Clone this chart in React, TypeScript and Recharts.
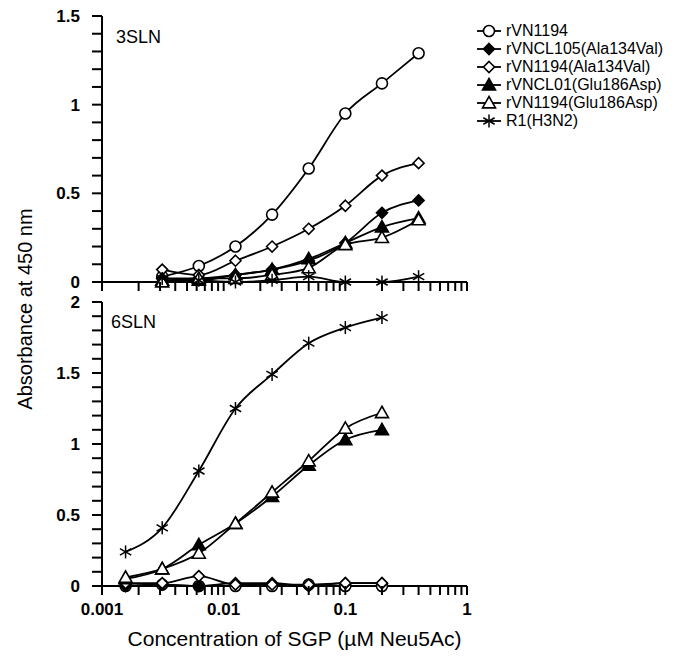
import { Legend, Line, LineChart, XAxis, YAxis, Label } from "recharts";

// concentrations (µM Neu5Ac), 2-fold dilutions
const X_3SLN = [0.003125, 0.00625, 0.0125, 0.025, 0.05, 0.1, 0.2, 0.4];
const X_6SLN = [0.0015625, 0.003125, 0.00625, 0.0125, 0.025, 0.05, 0.1, 0.2];

// 3SLN panel
const T_rVN1194 = [0.03, 0.09, 0.2, 0.38, 0.64, 0.95, 1.12, 1.29];
const T_rVNCL105A = [0.02, 0.02, 0.04, 0.07, 0.12, 0.22, 0.39, 0.46];
const T_rVN1194A = [0.07, 0.04, 0.12, 0.2, 0.3, 0.43, 0.6, 0.67];
const T_rVNCL01G = [0.01, 0.01, 0.04, 0.07, 0.13, 0.22, 0.31, 0.36];
const T_rVN1194G = [0.0, 0.02, 0.02, 0.04, 0.08, 0.21, 0.25, 0.35];
const T_R1 = [0.02, 0.01, 0.0, 0.01, 0.03, 0.0, 0.0, 0.03];

// 6SLN panel
const B_rVN1194 = [0.0, 0.01, 0.0, 0.0, 0.0, 0.01, 0.0, 0.0];
const B_rVNCL105A = [0.0, 0.01, 0.0, 0.02, 0.02, 0.0, 0.02, 0.02];
const B_rVN1194A = [0.02, 0.02, 0.07, 0.01, 0.01, 0.01, 0.02, 0.02];
const B_rVNCL01G = [0.05, 0.12, 0.29, 0.44, 0.63, 0.85, 1.03, 1.1];
const B_rVN1194G = [0.06, 0.12, 0.23, 0.44, 0.66, 0.88, 1.11, 1.22];
const B_R1 = [0.24, 0.41, 0.81, 1.25, 1.49, 1.71, 1.82, 1.89];

const SERIES = [
  { key: "a", name: "rVN1194", shape: "circle" },
  { key: "b", name: "rVNCL105(Ala134Val)", shape: "diamondFilled" },
  { key: "c", name: "rVN1194(Ala134Val)", shape: "diamond" },
  { key: "d", name: "rVNCL01(Glu186Asp)", shape: "triangleFilled" },
  { key: "e", name: "rVN1194(Glu186Asp)", shape: "triangle" },
  { key: "f", name: "R1(H3N2)", shape: "star" },
];

const DECADES = [0.001, 0.01, 0.1, 1];
const X_TICKS = [
  ...[0.001, 0.01, 0.1].flatMap((d) => [1, 2, 3, 4, 5, 6, 7, 8, 9].map((m) => +(d * m).toPrecision(3))),
  1,
];
const Y_TICKS_TOP = [0, 0.1, 0.2, 0.3, 0.4, 0.5, 0.6, 0.7, 0.8, 0.9, 1, 1.1, 1.2, 1.3, 1.4, 1.5];
const Y_TICKS_BOTTOM = [0, 0.1, 0.2, 0.3, 0.4, 0.5, 0.6, 0.7, 0.8, 0.9, 1, 1.1, 1.2, 1.3, 1.4, 1.5, 1.6, 1.7, 1.8, 1.9, 2];
const Y_LABELED = [0, 0.5, 1, 1.5, 2];

function rows(xs: number[], cols: number[][]) {
  return xs.map((x, i) => {
    const r: any = { x };
    SERIES.forEach((s, j) => (r[s.key] = cols[j][i]));
    return r;
  });
}

const topData = rows(X_3SLN, [T_rVN1194, T_rVNCL105A, T_rVN1194A, T_rVNCL01G, T_rVN1194G, T_R1]);
const bottomData = rows(X_6SLN, [B_rVN1194, B_rVNCL105A, B_rVN1194A, B_rVNCL01G, B_rVN1194G, B_R1]);

const FONT = "Arial, Liberation Sans, sans-serif";
const X_TICK_SIZE = 9;
const X_TICK_MARGIN = 7;
const Y_TICK_SIZE = 10;
const Y_TICK_MARGIN = 12;

function Marker({ cx, cy, shape }: { cx: number; cy: number; shape: string }) {
  const sw = 1.6;
  switch (shape) {
    case "circle":
      return <circle cx={cx} cy={cy} r={5.5} fill="#fff" stroke="#000" strokeWidth={sw} />;
    case "diamond":
    case "diamondFilled": {
      const r = 5.5;
      return (
        <polygon
          points={`${cx},${cy - r} ${cx + r},${cy} ${cx},${cy + r} ${cx - r},${cy}`}
          fill={shape === "diamond" ? "#fff" : "#000"}
          stroke="#000"
          strokeWidth={sw}
        />
      );
    }
    case "triangle":
    case "triangleFilled": {
      const r = 6.5;
      return (
        <polygon
          points={`${cx},${cy - r} ${cx + r},${cy + r * 0.75} ${cx - r},${cy + r * 0.75}`}
          fill={shape === "triangle" ? "#fff" : "#000"}
          stroke="#000"
          strokeWidth={sw}
        />
      );
    }
    default: {
      const r = 6.5;
      const a = r * 0.87;
      const b = r * 0.5;
      return (
        <g stroke="#000" strokeWidth={1.5}>
          <line x1={cx} y1={cy - r} x2={cx} y2={cy + r} />
          <line x1={cx - a} y1={cy - b} x2={cx + a} y2={cy + b} />
          <line x1={cx - a} y1={cy + b} x2={cx + a} y2={cy - b} />
        </g>
      );
    }
  }
}

function XTick({ x, y, payload, showLabel }: any) {
  const v = payload.value;
  const top = y - X_TICK_MARGIN - X_TICK_SIZE;
  return (
    <g>
      <line x1={x} x2={x} y1={top} y2={top + X_TICK_SIZE} stroke="#000" strokeWidth={2} />
      {showLabel && DECADES.includes(v) && (
        <text x={x} y={y} dy="0.75em" textAnchor="middle" fontSize={17} fontWeight="bold" fontFamily={FONT} fill="#000">
          {String(v)}
        </text>
      )}
    </g>
  );
}

function YTick({ x, y, payload }: any) {
  const v = payload.value;
  const right = x + Y_TICK_MARGIN + Y_TICK_SIZE;
  return (
    <g>
      <line x1={right - Y_TICK_SIZE} x2={right} y1={y} y2={y} stroke="#000" strokeWidth={2} />
      {Y_LABELED.includes(v) && (
        <text x={x} y={y} dy="0.36em" textAnchor="end" fontSize={17} fontWeight="bold" fontFamily={FONT} fill="#000">
          {String(v)}
        </text>
      )}
    </g>
  );
}

function LegendBox() {
  return (
    <div style={{ fontFamily: FONT, fontSize: 16, color: "#000" }}>
      {SERIES.map((s) => (
        <div key={s.key} style={{ display: "flex", alignItems: "center", height: 18 }}>
          <svg width={26} height={16} style={{ marginRight: 4 }}>
            <line x1={1} y1={8} x2={25} y2={8} stroke="#000" strokeWidth={1.8} />
            <Marker cx={13} cy={8} shape={s.shape} />
          </svg>
          <span>{s.name}</span>
        </div>
      ))}
    </div>
  );
}

function Panel({ data, yMax, yTicks, top, height, margin, xHeight, showX, title, legend }: any) {
  return (
    <div style={{ position: "absolute", left: 0, top }}>
      <LineChart width={680} height={height} data={data} margin={margin}>
        <XAxis
          dataKey="x"
          type="number"
          scale="log"
          domain={[0.001, 1]}
          ticks={X_TICKS}
          interval={0}
          allowDataOverflow
          height={xHeight}
          stroke="#000"
          strokeWidth={2}
          tickLine={false}
          tickSize={X_TICK_SIZE}
          tickMargin={X_TICK_MARGIN}
          tick={(p: any) => <XTick key={p.index} {...p} showLabel={showX} />}
        >
          {showX && (
            <Label
              value="Concentration of SGP (µM Neu5Ac)"
              position="insideBottom"
              offset={16}
              dx={10}
              style={{ fill: "#000", fontSize: 21, fontFamily: FONT }}
            />
          )}
        </XAxis>
        <XAxis xAxisId="frame" orientation="top" type="number" domain={[0, 1]} height={0} tick={false} tickLine={false} stroke="#000" strokeWidth={2} />
        <YAxis
          type="number"
          domain={[0, yMax]}
          ticks={yTicks}
          interval={0}
          width={102}
          stroke="#000"
          strokeWidth={2}
          tickLine={false}
          tickSize={Y_TICK_SIZE}
          tickMargin={Y_TICK_MARGIN}
          tick={(p: any) => <YTick key={p.index} {...p} />}
        />
        <YAxis yAxisId="frame" orientation="right" type="number" domain={[0, 1]} width={0} tick={false} tickLine={false} stroke="#000" strokeWidth={2} />
        {SERIES.map((s) => (
          <Line
            key={s.key}
            dataKey={s.key}
            name={s.name}
            type="monotone"
            stroke="#000"
            strokeWidth={1.8}
            isAnimationActive={false}
            dot={(p: any) => <Marker key={`${s.key}-${p.index}`} cx={p.cx} cy={p.cy} shape={s.shape} />}
          />
        ))}
        {legend && (
          <Legend
            layout="horizontal"
            verticalAlign="middle"
            align="center"
            content={() => <LegendBox />}
            wrapperStyle={{ left: 476, top: 22, width: 204, height: 110 }}
          />
        )}
      </LineChart>
      <div style={{ position: "absolute", left: title.x, top: title.y, fontFamily: FONT, fontSize: 18, color: "#000" }}>
        {title.text}
      </div>
    </div>
  );
}

export default function App() {
  return (
    <div style={{ position: "absolute", left: 0, top: 0, width: 680, height: 662, background: "#fff" }}>
      <Panel
        data={topData}
        yMax={1.5}
        yTicks={Y_TICKS_TOP}
        top={0}
        height={300}
        margin={{ top: 16, right: 213, left: 0, bottom: 0 }}
        xHeight={18}
        showX={false}
        title={{ x: 116, y: 27, text: "3SLN" }}
        legend
      />
      <Panel
        data={bottomData}
        yMax={2}
        yTicks={Y_TICKS_BOTTOM}
        top={290}
        height={372}
        margin={{ top: 12, right: 213, left: 0, bottom: 0 }}
        xHeight={76}
        showX
        title={{ x: 111, y: 22, text: "6SLN" }}
        legend={false}
      />
      <div
        style={{
          position: "absolute",
          left: 25,
          top: 309,
          transform: "translate(-50%, -50%) rotate(-90deg)",
          whiteSpace: "nowrap",
          fontFamily: FONT,
          fontSize: 20,
          color: "#000",
        }}
      >
        Absorbance at 450 nm
      </div>
    </div>
  );
}
